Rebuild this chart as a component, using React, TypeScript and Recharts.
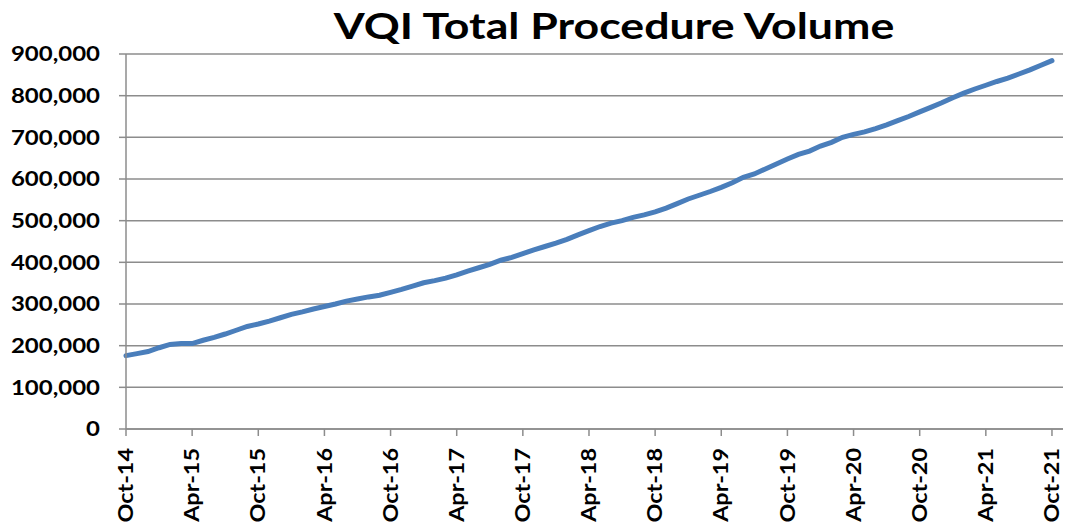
import React from "react";
import { LineChart, Line, XAxis, YAxis, CartesianGrid } from "recharts";

const monthNames = ["Jan","Feb","Mar","Apr","May","Jun","Jul","Aug","Sep","Oct","Nov","Dec"];
const startYear = 2014;
const startMonth = 9; // October

// cumulative procedure volume (thousands), monthly Oct-14 .. Oct-21
const volumeThousands = [
  176, 181, 186, 195, 203, 205, 205, 213, 220, 228,
  237, 246, 252, 259, 267, 275, 281, 288, 294, 300,
  307, 312, 317, 321, 328, 335, 343, 351, 356, 362,
  370, 379, 387, 395, 405, 412, 421, 430, 438, 446,
  455, 466, 476, 486, 494, 500, 508, 514, 521, 530,
  541, 552, 561, 570, 580, 591, 604, 612, 624, 636,
  648, 659, 667, 679, 688, 700, 707, 713, 721, 730,
  740, 750, 761, 772, 783, 795, 806, 816, 825, 834,
  842, 852, 862, 873, 884,
];

const xTicks = [0, 6, 12, 18, 24, 30, 36, 42, 48, 54, 60, 66, 72, 78, 84];
const yTicks = [0, 100000, 200000, 300000, 400000, 500000, 600000, 700000, 800000, 900000];

const monthLabel = (i: number) => {
  const total = startMonth + i;
  const y = startYear + Math.floor(total / 12);
  const m = total % 12;
  return `${monthNames[m]}-${String(y % 100).padStart(2, "0")}`;
};

const data = volumeThousands.map((v, i) => ({ m: i, value: v * 1000 }));

const FONT = "Lato, 'Open Sans', sans-serif";

const XTick = (props: any) => {
  const { x, y, payload } = props;
  return (
    <text
      x={0}
      y={0}
      dy="0.36em"
      transform={`translate(${x},${y + 10}) rotate(-90) scale(1.17,1)`}
      textAnchor="end"
      fontFamily={FONT}
      fontWeight={700}
      fontSize={20}
      fill="#000"
    >
      {monthLabel(payload.value)}
    </text>
  );
};

const YTick = (props: any) => {
  const { x, y, payload } = props;
  return (
    <text
      x={0}
      y={0}
      dy="0.36em"
      transform={`translate(${x - 17},${y}) scale(1.2,1)`}
      textAnchor="end"
      fontFamily={FONT}
      fontWeight={700}
      fontSize={20}
      fill="#000"
    >
      {Number(payload.value).toLocaleString("en-US")}
    </text>
  );
};

export default function App() {
  return (
    <div style={{ position: "absolute", left: 0, top: 0, width: 1082, height: 526, background: "#fff" }}>
      <LineChart
        width={1082}
        height={526}
        data={data}
        margin={{ top: 54, right: 19, left: 0, bottom: 0 }}
      >
        <CartesianGrid horizontal={true} vertical={false} stroke="#8c8c8c" strokeWidth={1.5} />
        <XAxis
          dataKey="m"
          type="number"
          domain={[0, 85]}
          ticks={xTicks}
          interval={0}
          height={97}
          stroke="#8c8c8c"
          strokeWidth={1.5}
          tickSize={7}
          tickLine={{ stroke: "#8c8c8c", strokeWidth: 1.5 }}
          tick={<XTick />}
        />
        <YAxis
          type="number"
          domain={[0, 900000]}
          ticks={yTicks}
          interval={0}
          width={126}
          stroke="#8c8c8c"
          strokeWidth={1.5}
          tickSize={7}
          tickLine={{ stroke: "#8c8c8c", strokeWidth: 1.5 }}
          tick={<YTick />}
        />
        <Line
          type="linear"
          dataKey="value"
          stroke="#4a7ebb"
          strokeWidth={5}
          dot={false}
          isAnimationActive={false}
          strokeLinecap="round"
        />
      </LineChart>
      <div
        style={{
          position: "absolute",
          left: 0,
          width: 1228,
          top: 3,
          textAlign: "center",
          fontFamily: FONT,
          fontWeight: 700,
          fontSize: 36,
          lineHeight: "44px",
          color: "#000",
          transform: "scaleX(1.24)",
          transformOrigin: "614px 0",
        }}
      >
        VQI Total Procedure Volume
      </div>
    </div>
  );
}
